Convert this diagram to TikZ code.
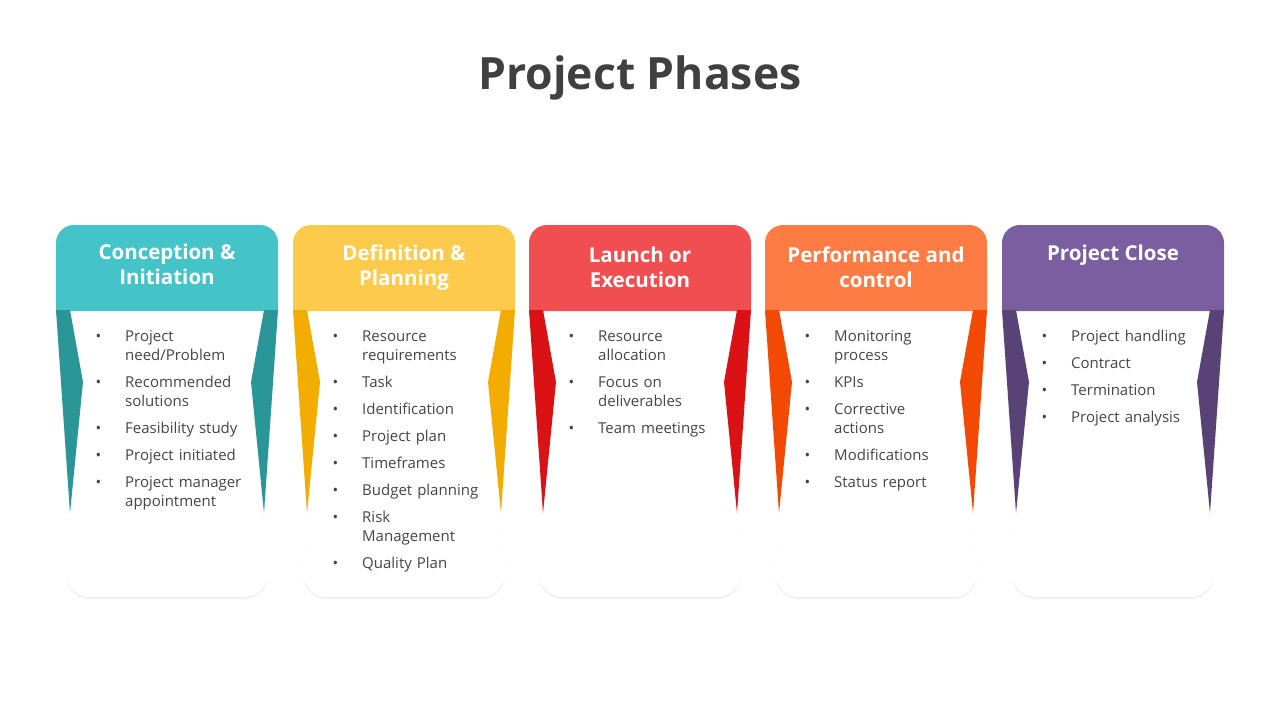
\documentclass[tikz,border=0pt]{standalone}
\usepackage{fontspec}
\setmainfont{Open Sans}
\usepackage{enumitem}
\usetikzlibrary{shadows}
\definecolor{TitleClr}{HTML}{404040}
\definecolor{TextClr}{HTML}{454545}
\definecolor{TealHead}{HTML}{44C3C9}
\definecolor{TealBand}{HTML}{2A9698}
\definecolor{GoldHead}{HTML}{FECA4B}
\definecolor{GoldBand}{HTML}{F3AC00}
\definecolor{RedHead}{HTML}{F04E50}
\definecolor{RedBand}{HTML}{DA1216}
\definecolor{OrangeHead}{HTML}{FF7B44}
\definecolor{OrangeBand}{HTML}{F24A04}
\definecolor{PurpleHead}{HTML}{7A5EA0}
\definecolor{PurpleBand}{HTML}{584276}

\setlist[itemize]{label=\textbullet,leftmargin=28pt,labelsep=24pt,topsep=0pt,partopsep=0pt,parsep=0pt,itemsep=8pt}

\tikzset{
  card/.style={fill=white,drop shadow={opacity=0.12,shadow xshift=0pt,shadow yshift=-2pt}},
  headtext/.style={text=white,align=center,font=\bfseries\fontsize{20.5}{25}\selectfont},
  itemtext/.style={anchor=north west,inner sep=0pt,text width=170pt,text=TextClr,font=\fontsize{15}{19}\selectfont}
}

% #1 centre, #2 head colour, #3 band colour, #4 name, #5 title y, #6 title, #7 items
\newcommand{\phasecard}[7]{
  \path[card] ({#1-111},310) -- ({#1-97},513)
    {[rounded corners=26pt] -- ({#1-103},597) -- ({#1+103},597)} -- ({#1+97},513)
    -- ({#1+111},310) -- cycle;
  \fill[#2] ({#1-111},311) {[rounded corners=18pt] -- ({#1-111},225) -- ({#1+111},225)}
    -- ({#1+111},311) -- cycle;
  \fill[#3] ({#1-111},310) -- ({#1-97},310) -- ({#1-84},382) -- ({#1-97},513) -- cycle;
  \fill[#3] ({#1+111},310) -- ({#1+97},310) -- ({#1+84},382) -- ({#1+97},513) -- cycle;
  \node[headtext] (head#4) at (#1,#5) {#6};
  \node[itemtext] (list#4) at ({#1-70},322) {\begin{itemize}#7\end{itemize}};
}

\begin{document}
\begin{tikzpicture}[x=1pt,y=-1pt]
\useasboundingbox (0,0) rectangle (1280,720);

\node[text=TitleClr,font=\bfseries\fontsize{44.5}{50}\selectfont] (title) at (640,78) {Project Phases};

\phasecard{167}{TealHead}{TealBand}{1}{264.5}{Conception \&\\Initiation}
  {\item Project\\need/Problem \item Recommended\\solutions \item Feasibility study
   \item Project initiated \item Project manager\\appointment}

\phasecard{404}{GoldHead}{GoldBand}{2}{267.5}{Definition \&\\Planning}
  {\item Resource\\requirements \item Task \item Identification \item Project plan
   \item Timeframes \item Budget planning \item Risk\\Management \item Quality Plan}

\phasecard{640}{RedHead}{RedBand}{3}{267.5}{Launch or\\Execution}
  {\item Resource\\allocation \item Focus on\\deliverables \item Team meetings}

\phasecard{876}{OrangeHead}{OrangeBand}{4}{267.5}{Performance and\\control}
  {\item Monitoring\\process \item KPIs \item Corrective\\actions \item Modifications
   \item Status report}

\phasecard{1113}{PurpleHead}{PurpleBand}{5}{255}{Project Close}
  {\item Project handling \item Contract \item Termination \item Project analysis}

\end{tikzpicture}
\end{document}
